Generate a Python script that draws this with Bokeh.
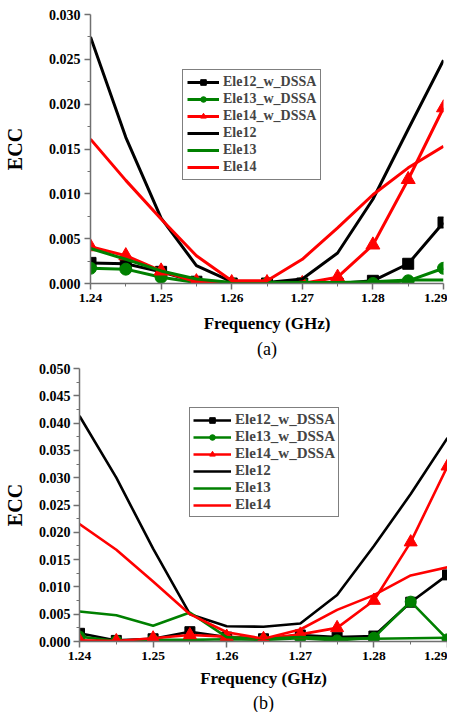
from bokeh.plotting import figure
from bokeh.layouts import column
from bokeh.models import (FixedTicker, PrintfTickFormatter, Legend, LegendItem,
                          Title, Range1d)
from bokeh.embed import file_html
from bokeh.resources import INLINE

freq = [1.24, 1.245, 1.25, 1.255, 1.26, 1.265, 1.27, 1.275, 1.28, 1.285, 1.29]
labels = ["Ele12_w_DSSA", "Ele13_w_DSSA", "Ele14_w_DSSA", "Ele12", "Ele13", "Ele14"]

# panel (a)
a_ele12_w = [0.0023, 0.0022, 0.0013, 0.0002, 0.0000, 0.0000, 0.0000, 0.0000, 0.0003, 0.0022, 0.0068]
a_ele13_w = [0.0017, 0.0016, 0.0007, 0.0001, 0.0000, 0.0000, 0.0000, 0.0000, 0.0000, 0.0003, 0.0017]
a_ele14_w = [0.0041, 0.0031, 0.0014, 0.0002, 0.0001, 0.0001, 0.0000, 0.0007, 0.0043, 0.0116, 0.0196]
a_ele12 = [0.0275, 0.0163, 0.0073, 0.0020, 0.0002, 0.0001, 0.0005, 0.0034, 0.0094, 0.0172, 0.0249]
a_ele13 = [0.0039, 0.0027, 0.0014, 0.0005, 0.0001, 0.0001, 0.0001, 0.0001, 0.0002, 0.0004, 0.0004]
a_ele14 = [0.0161, 0.0115, 0.0072, 0.0031, 0.0003, 0.0003, 0.0027, 0.0062, 0.0099, 0.0129, 0.0153]

# panel (b)
b_ele12_w = [0.0015, 0.0002, 0.0005, 0.0018, 0.0008, 0.0005, 0.0012, 0.0008, 0.0010, 0.0072, 0.0122]
b_ele13_w = [0.0009, 0.0001, 0.0003, 0.0003, 0.0004, 0.0003, 0.0006, 0.0002, 0.0007, 0.0073, 0.0004]
b_ele14_w = [0.0002, 0.0001, 0.0006, 0.0012, 0.0009, 0.0005, 0.0013, 0.0025, 0.0075, 0.0182, 0.0321]
b_ele12 = [0.0413, 0.0300, 0.0170, 0.0050, 0.0028, 0.0027, 0.0033, 0.0085, 0.0175, 0.0270, 0.0373]
b_ele13 = [0.0055, 0.0048, 0.0029, 0.0053, 0.0008, 0.0005, 0.0008, 0.0006, 0.0005, 0.0006, 0.0007]
b_ele14 = [0.0215, 0.0168, 0.0110, 0.0050, 0.0017, 0.0005, 0.0022, 0.0058, 0.0085, 0.0121, 0.0136]

x_ticks = [1.24, 1.25, 1.26, 1.27, 1.28, 1.29]
x_minor = [1.245, 1.255, 1.265, 1.275, 1.285]
a_yticks = [0.0, 0.005, 0.010, 0.015, 0.020, 0.025, 0.030]
b_yticks = [0.0, 0.005, 0.010, 0.015, 0.020, 0.025, 0.030, 0.035, 0.040, 0.045, 0.050]

BLACK, GREEN, RED = "#000000", "#008000", "#ff0000"
SERIF = "Liberation Serif"


def make_panel(caption, series, yticks, ymax, height, bl, bt, br, bb, lw, msize,
               leg_loc, leg_font, leg_glyph_w, leg_label_h, leg_pad, leg_spacing,
               ylab_standoff, ytick_standoff, xlab_standoff, cap_standoff):
    p = figure(width=447, height=height, output_backend="svg", toolbar_location=None,
               x_range=Range1d(1.24, 1.29), y_range=Range1d(0.0, ymax),
               min_border_left=bl, min_border_right=br, min_border_top=bt,
               min_border_bottom=bb)
    p.frame_align = False
    p.outline_line_color = None
    p.xgrid.visible = False
    p.ygrid.visible = False
    p.background_fill_color = "white"
    p.border_fill_color = "white"

    p.xaxis.ticker = FixedTicker(ticks=x_ticks, minor_ticks=x_minor)
    p.xaxis.formatter = PrintfTickFormatter(format="%.2f")
    yminor = [t + 0.0025 for t in yticks[:-1]]
    p.yaxis.ticker = FixedTicker(ticks=yticks, minor_ticks=yminor)
    p.yaxis.formatter = PrintfTickFormatter(format="%.3f")

    for ax in (p.xaxis[0], p.yaxis[0]):
        ax.axis_line_color = "#707070"
        ax.axis_line_width = 1.5
        ax.major_tick_line_color = "#707070"
        ax.minor_tick_line_color = "#707070"
        ax.major_tick_line_width = 1.5
        ax.major_tick_out = 6
        ax.major_tick_in = 0
        ax.minor_tick_out = 3
        ax.minor_tick_in = 0
        ax.major_label_standoff = 4
        ax.major_label_text_font = SERIF
        ax.major_label_text_font_style = "bold"
        ax.major_label_text_color = "black"
        ax.axis_label_text_font = SERIF
        ax.axis_label_text_font_style = "bold"
        ax.axis_label_text_color = "black"
    p.yaxis.major_label_standoff = ytick_standoff
    p.xaxis.major_label_text_font_size = "13.5px"
    p.yaxis.major_label_text_font_size = "14px"
    p.xaxis.axis_label = "Frequency (GHz)"
    p.xaxis.axis_label_text_font_size = "17px"
    p.xaxis.axis_label_standoff = xlab_standoff
    p.yaxis.axis_label = "ECC"
    p.yaxis.axis_label_text_font_size = "20px"
    p.yaxis.axis_label_standoff = ylab_standoff

    w12, w13, w14, e12, e13, e14 = series
    items = []
    r1 = p.line(freq, w12, line_color=BLACK, line_width=lw)
    s1 = p.scatter(freq, w12, marker="square", size=msize, fill_color=BLACK, line_color=BLACK)
    items.append(LegendItem(label=labels[0], renderers=[r1, s1]))
    r2 = p.line(freq, w13, line_color=GREEN, line_width=lw)
    s2 = p.scatter(freq, w13, marker="circle", size=msize + 1, fill_color=GREEN, line_color=GREEN)
    items.append(LegendItem(label=labels[1], renderers=[r2, s2]))
    r3 = p.line(freq, w14, line_color=RED, line_width=lw)
    s3 = p.scatter(freq, w14, marker="triangle", size=msize + 3, fill_color=RED, line_color=RED)
    items.append(LegendItem(label=labels[2], renderers=[r3, s3]))
    r4 = p.line(freq, e12, line_color=BLACK, line_width=lw)
    items.append(LegendItem(label=labels[3], renderers=[r4]))
    r5 = p.line(freq, e13, line_color=GREEN, line_width=lw)
    items.append(LegendItem(label=labels[4], renderers=[r5]))
    r6 = p.line(freq, e14, line_color=RED, line_width=lw)
    items.append(LegendItem(label=labels[5], renderers=[r6]))

    leg = Legend(items=items, location=leg_loc)
    leg.border_line_color = "black"
    leg.border_line_width = 1
    leg.background_fill_color = "white"
    leg.background_fill_alpha = 1.0
    leg.label_text_font = SERIF
    leg.label_text_font_style = "bold"
    leg.label_text_font_size = leg_font
    leg.glyph_width = leg_glyph_w
    leg.glyph_height = 14
    leg.label_height = leg_label_h
    leg.label_standoff = 4
    leg.spacing = leg_spacing
    leg.padding = leg_pad
    leg.margin = 0
    p.add_layout(leg, "center")

    cap = Title(text=caption, align="center", text_font=SERIF, text_font_size="18px",
                text_font_style="normal", text_color="black", standoff=cap_standoff, offset=0)
    p.add_layout(cap, "below")
    return p


pa = make_panel("(a)", [a_ele12_w, a_ele13_w, a_ele14_w, a_ele12, a_ele13, a_ele14],
                a_yticks, 0.030, 360, 80, 14, 4, 77, 3.0, 11, (92, 103), "14px", 32, 16, 4, 1,
                20, 4, 9, 2)
pb = make_panel("(b)", [b_ele12_w, b_ele13_w, b_ele14_w, b_ele12, b_ele13, b_ele14],
                b_yticks, 0.050, 352, 74, 8, 0, 65, 2.6, 10, (110, 124), "15px", 38, 16, 3, 0,
                10, 3, 6, 0)

layout = column(pa, pb, spacing=0)
open("out.html", "w").write(file_html(layout, INLINE))
